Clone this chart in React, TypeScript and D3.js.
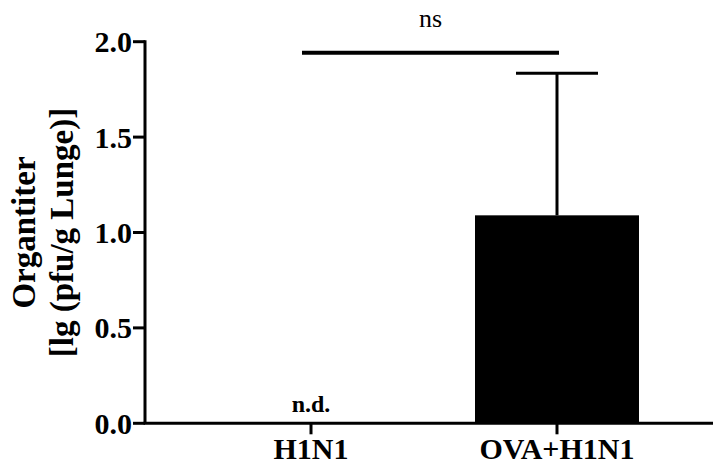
import React from "react";
import * as d3 from "d3";

// Group labels, means and SD of lung virus titre
const categories: string[] = ["H1N1", "OVA+H1N1"];
const means: number[] = [0, 1.09];
const sds: number[] = [0, 0.745];
const detected: boolean[] = [false, true];
const yTicks: number[] = [0, 0.5, 1.0, 1.5, 2.0];
const sigLabel = "ns";

const W = 713;
const H = 468;
const serif = "'Liberation Serif', 'Times New Roman', serif";

export default function App() {
  const y = d3.scaleLinear().domain([0, 2]).range([423.3, 41.7]);
  const x = d3
    .scaleBand<string>()
    .domain(categories)
    .range([145, 723])
    .paddingInner(1 / 3)
    .paddingOuter(0.3415);
  const bw = x.bandwidth();
  const cx = (c: string) => (x(c) as number) + bw / 2;
  const axisX = x.range()[0];
  const y0 = y(0);
  const fmt = d3.format(".1f");

  const sigY = 52.7;
  const sigX1 = cx(categories[0]) - 9;
  const sigX2 = cx(categories[1]) + 2;

  return (
    <div style={{ position: "absolute", left: 0, top: 0 }}>
      <svg width={W} height={H} style={{ display: "block", background: "#fff" }}>
        {/* bars, error bars and n.d. markers */}
        {categories.map((c, i) =>
          detected[i] ? (
            <g key={c}>
              <line
                x1={cx(c)}
                x2={cx(c)}
                y1={y(means[i])}
                y2={y(means[i] + sds[i])}
                stroke="#000"
                strokeWidth={3}
              />
              <line
                x1={cx(c) - bw / 4}
                x2={cx(c) + bw / 4}
                y1={y(means[i] + sds[i])}
                y2={y(means[i] + sds[i])}
                stroke="#000"
                strokeWidth={3}
              />
              <rect
                x={x(c)}
                y={y(means[i])}
                width={bw}
                height={y0 - y(means[i])}
                fill="#000"
              />
            </g>
          ) : (
            <text
              key={c}
              x={cx(c)}
              y={y0 - 11}
              textAnchor="middle"
              fontFamily={serif}
              fontWeight="bold"
              fontSize={24}
              fill="#000"
            >
              n.d.
            </text>
          )
        )}

        {/* y axis */}
        <line x1={axisX} x2={axisX} y1={y(2) - 1.5} y2={y0} stroke="#000" strokeWidth={3} />
        {yTicks.map((t) => (
          <g key={t}>
            <line x1={axisX - 12} x2={axisX} y1={y(t)} y2={y(t)} stroke="#000" strokeWidth={3} />
            <text
              x={axisX - 13}
              y={y(t)}
              dy="0.35em"
              textAnchor="end"
              fontFamily={serif}
              fontWeight="bold"
              fontSize={30}
              fill="#000"
            >
              {fmt(t)}
            </text>
          </g>
        ))}

        {/* x axis */}
        <line x1={axisX - 1.5} x2={x.range()[1]} y1={y0} y2={y0} stroke="#000" strokeWidth={3} />
        {categories.map((c) => (
          <g key={c}>
            <line x1={cx(c)} x2={cx(c)} y1={y0} y2={y0 + 11} stroke="#000" strokeWidth={3} />
            <text
              x={cx(c)}
              y={459}
              textAnchor="middle"
              fontFamily={serif}
              fontWeight="bold"
              fontSize={30}
              fill="#000"
            >
              {c}
            </text>
          </g>
        ))}

        {/* y axis title */}
        <g transform={`translate(0, ${(y(0) + y(2)) / 2}) rotate(-90)`}>
          <text
            x={0}
            y={35}
            textAnchor="middle"
            fontFamily={serif}
            fontWeight="bold"
            fontSize={33}
            fill="#000"
          >
            Organtiter
          </text>
          <text
            x={0}
            y={73}
            textAnchor="middle"
            fontFamily={serif}
            fontWeight="bold"
            fontSize={33}
            fill="#000"
          >
            [lg (pfu/g Lunge)]
          </text>
        </g>

        {/* significance bracket */}
        <line x1={sigX1} x2={sigX2} y1={sigY} y2={sigY} stroke="#000" strokeWidth={4} />
        <text
          x={(sigX1 + sigX2) / 2}
          y={27}
          textAnchor="middle"
          fontFamily={serif}
          fontSize={26}
          fill="#000"
        >
          {sigLabel}
        </text>
      </svg>
    </div>
  );
}
